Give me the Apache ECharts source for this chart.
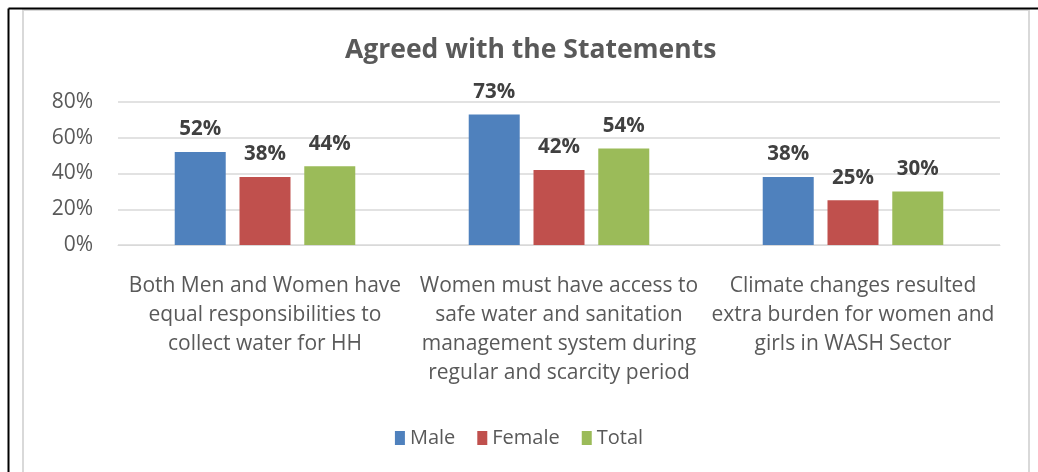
<!DOCTYPE html>
<html>
<head>
<meta charset="utf-8">
<script src="https://cdn.jsdelivr.net/npm/echarts@6/dist/echarts.min.js"></script>
<style>
  html, body { margin: 0; padding: 0; background: #fff; }
  #chart { width: 1038px; height: 472px; }
</style>
</head>
<body>
<div id="chart"></div>
<script>
// statements (line breaks as in the original chart)
const categories = [
  'Both Men and Women have\nequal responsibilities to\ncollect water for HH',
  'Women must have access to\nsafe water and sanitation\nmanagement system during\nregular and scarcity period',
  'Climate changes resulted\nextra burden for women and\ngirls in WASH Sector'
];
const seriesNames = ['Male', 'Female', 'Total'];
const maleValues = [52, 73, 38];
const femaleValues = [38, 42, 25];
const totalValues = [44, 54, 30];
const colors = ['#4F81BD', '#C0504D', '#9BBB59'];

const FONT = '"Open Sans"';
const chart = echarts.init(document.getElementById('chart'), null, { renderer: 'canvas' });

function barSeries(name, data, color) {
  return {
    name: name,
    type: 'bar',
    data: data,
    barWidth: 51,
    barGap: '27%',
    itemStyle: { color: color },
    label: {
      show: true,
      position: 'top',
      distance: 12,
      formatter: '{c}%',
      fontFamily: FONT,
      fontWeight: 'bold',
      fontSize: 20.5,
      color: '#404040'
    }
  };
}

const option = {
  backgroundColor: '#fff',
  animation: false,
  color: colors,
  title: {
    text: 'Agreed with the Statements',
    left: 340,
    top: 32,
    textStyle: { fontFamily: FONT, fontWeight: 'bold', fontSize: 26.5, color: '#595959' }
  },
  legend: {
    bottom: 19,
    left: 'center',
    itemWidth: 10,
    itemHeight: 14,
    itemGap: 22,
    icon: 'rect',
    textStyle: { fontFamily: FONT, fontSize: 20, color: '#595959' },
    data: seriesNames
  },
  grid: { left: 118, right: 38, top: 102, height: 143, containLabel: false },
  xAxis: {
    type: 'category',
    data: categories,
    axisLine: { show: true, lineStyle: { color: '#D9D9D9' } },
    axisTick: { show: false },
    axisLabel: {
      interval: 0,
      margin: 27,
      fontFamily: FONT,
      fontSize: 21,
      lineHeight: 29,
      color: '#595959',
      align: 'center'
    }
  },
  yAxis: {
    type: 'value',
    min: 0,
    max: 80,
    interval: 20,
    axisLine: { show: false },
    axisTick: { show: false },
    splitLine: { lineStyle: { color: '#D9D9D9', width: 1.5 } },
    axisLabel: {
      formatter: '{value}%',
      margin: 25,
      fontFamily: FONT,
      fontSize: 21,
      color: '#595959'
    }
  },
  graphic: [
    { type: 'rect', shape: { x: 23, y: 10, width: 1006, height: 480 },
      style: { fill: null, stroke: '#D9D9D9', lineWidth: 2 }, silent: true },
    { type: 'line', shape: { x1: 8.5, y1: 8.5, x2: 1038, y2: 8.5 },
      style: { stroke: '#000', lineWidth: 2 }, silent: true },
    { type: 'line', shape: { x1: 8.5, y1: 8.5, x2: 8.5, y2: 472 },
      style: { stroke: '#000', lineWidth: 2 }, silent: true }
  ],
  series: [
    barSeries(seriesNames[0], maleValues, colors[0]),
    barSeries(seriesNames[1], femaleValues, colors[1]),
    barSeries(seriesNames[2], totalValues, colors[2])
  ]
};

chart.setOption(option);
</script>
</body>
</html>
